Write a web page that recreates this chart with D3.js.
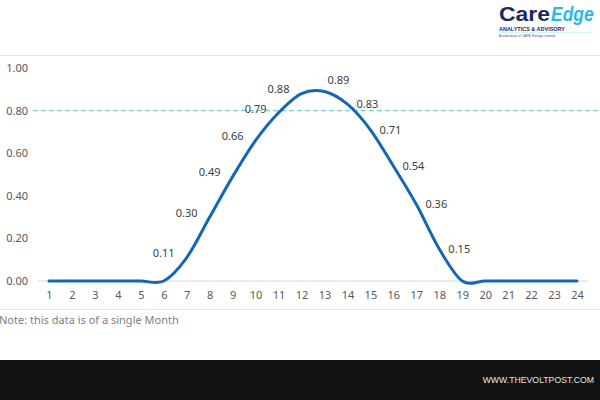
<!DOCTYPE html>
<html>
<head>
<meta charset="utf-8">
<script src="https://cdn.jsdelivr.net/npm/d3@7"></script>
<style>
  body { margin: 0; background: #fff; }
  svg { display: block; }
</style>
</head>
<body>
<div id="chart"></div>
<script>

var hours = d3.range(1, 25).map(String);
var values = [0, 0, 0, 0, 0, 0, 0.11, 0.30, 0.49, 0.66, 0.79, 0.88,
              0.89, 0.83, 0.71, 0.54, 0.36, 0.15, 0, 0, 0, 0, 0, 0];
var yTicks = [0, 0.2, 0.4, 0.6, 0.8, 1.0];
var refValue = 0.80;
var noteText = "Note: this data is of a single Month";
var siteText = "WWW.THEVOLTPOST.COM";

var svg_dx = 600,
    svg_dy = 400;

var x = d3.scalePoint().domain(hours).range([49, 577]),
    y = d3.scaleLinear().domain([0, 1]).range([281, 68]);

var fmt = d3.format(".2f");
var font = "'Noto Sans', 'Open Sans', sans-serif";
var logoFont = "'Liberation Sans', Arial, sans-serif";

var svg = d3.select("#chart")
            .append("svg")
            .attr("width", svg_dx)
            .attr("height", svg_dy);

// header separator
svg.append("line")
   .attr("x1", 0).attr("x2", svg_dx)
   .attr("y1", 55.5).attr("y2", 55.5)
   .style("stroke", "#e2e2e2");

// logo
var logo = svg.append("g").attr("transform", "translate(499,0)");
logo.append("text")
    .attr("x", 0).attr("y", 21)
    .attr("textLength", 51)
    .attr("lengthAdjust", "spacingAndGlyphs")
    .style("font-family", logoFont)
    .style("font-weight", "bold")
    .style("font-size", "21px")
    .style("fill", "#1b2a5e")
    .text("Care");
logo.append("text")
    .attr("transform", "translate(52,21) scale(1,1.15)")
    .style("font-family", logoFont)
    .style("font-weight", "bold")
    .style("font-style", "italic")
    .style("font-size", "17.5px")
    .style("fill", "#2cb8e6")
    .text("Edge");
logo.append("text")
    .attr("x", 0).attr("y", 31)
    .attr("textLength", 66)
    .attr("lengthAdjust", "spacingAndGlyphs")
    .style("font-family", logoFont)
    .style("font-weight", "bold")
    .style("font-size", "6px")
    .style("fill", "#1b2a5e")
    .text("ANALYTICS & ADVISORY");
logo.append("line")
    .attr("x1", 0).attr("x2", 92)
    .attr("y1", 32.6).attr("y2", 32.6)
    .style("stroke", "#9fe0f2")
    .style("stroke-width", 0.5);
logo.append("text")
    .attr("x", 0).attr("y", 36.5)
    .attr("textLength", 56)
    .attr("lengthAdjust", "spacingAndGlyphs")
    .style("font-family", logoFont)
    .style("font-size", "3.6px")
    .style("fill", "#555")
    .text("A subsidiary of CARE Ratings Limited");

// baseline
svg.append("line")
   .attr("x1", 38).attr("x2", 588)
   .attr("y1", y(0)).attr("y2", y(0))
   .style("stroke", "#e4e4e4")
   .style("stroke-width", 1.5);

// y axis
var axis_y = svg.append("g")
    .attr("transform", "translate(31,0)")
    .call(d3.axisLeft(y).tickValues(yTicks).tickFormat(fmt).tickSize(0).tickPadding(3));
axis_y.select(".domain").remove();
axis_y.selectAll("text")
      .style("font-family", font)
      .style("font-size", "11px")
      .style("fill", "#595959");

// x axis
var axis_x = svg.append("g")
    .attr("transform", "translate(0," + y(0) + ")")
    .call(d3.axisBottom(x).tickSize(0).tickPadding(10));
axis_x.select(".domain").remove();
axis_x.selectAll("text")
      .style("font-family", font)
      .style("font-size", "11px")
      .style("fill", "#595959");

// 0.80 reference line
svg.append("line")
   .attr("x1", 33).attr("x2", svg_dx)
   .attr("y1", y(refValue)).attr("y2", y(refValue))
   .style("stroke", "#6fd6da")
   .style("stroke-width", 1.2)
   .style("stroke-dasharray", "5,3");

var data = hours.map((h, i) => ({hour: h, value: values[i]}));

var valueline = d3.line()
    .x(d => x(d.hour))
    .y(d => y(d.value))
    .curve(d3.curveCardinal.tension(0));

svg.append("path")
   .datum(data)
   .attr("d", valueline)
   .style("fill", "none")
   .style("stroke", "#1467b4")
   .style("stroke-width", 3)
   .style("stroke-linecap", "round");

// data labels: left on the rise, right on the fall, above-right at the peak
var peak = d3.maxIndex(values);

svg.append("g")
   .selectAll("text")
   .data(data.filter(d => d.value > 0))
   .enter()
   .append("text")
   .attr("x", d => {
       var i = hours.indexOf(d.hour);
       if (i < peak) return x(d.hour) - 23;
       if (i == peak) return x(d.hour) + 14;
       return x(d.hour) + 20;
   })
   .attr("y", d => {
       var i = hours.indexOf(d.hour);
       if (i < peak) return y(d.value) - 4;
       if (i == peak) return y(d.value) - 11;
       return y(d.value);
   })
   .attr("dy", "0.35em")
   .attr("text-anchor", "middle")
   .style("font-family", font)
   .style("font-size", "11px")
   .style("fill", "#404040")
   .text(d => fmt(d.value));

// note
svg.append("line")
   .attr("x1", 0).attr("x2", svg_dx)
   .attr("y1", 309.5).attr("y2", 309.5)
   .style("stroke", "#e6e6e6");

svg.append("text")
   .attr("x", -1)
   .attr("y", 324)
   .style("font-family", font)
   .style("font-size", "11px")
   .style("fill", "#808080")
   .text(noteText);

// footer bar
svg.append("rect")
   .attr("x", 0).attr("y", 360)
   .attr("width", svg_dx).attr("height", 40)
   .style("fill", "#121212");

svg.append("text")
   .attr("x", 594)
   .attr("y", 382.5)
   .attr("text-anchor", "end")
   .style("font-family", logoFont)
   .style("font-size", "8.7px")
   .style("fill", "#e6e6e6")
   .text(siteText);

</script>
</body>
</html>
